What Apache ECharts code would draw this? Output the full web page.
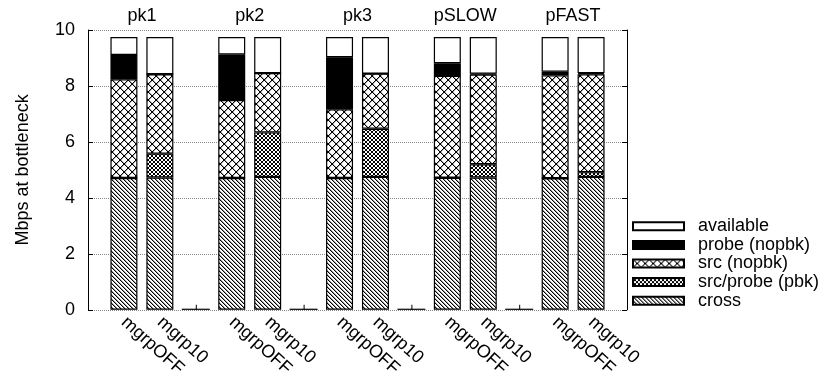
<!DOCTYPE html>
<html>
<head>
<meta charset="utf-8">
<script src="https://cdn.jsdelivr.net/npm/echarts@6/dist/echarts.min.js"></script>
<style>
  html, body { margin: 0; padding: 0; background: #fff; }
  #chart { width: 825px; height: 380px; }
</style>
</head>
<body>
<div id="chart"></div>
<script>
// Slots along the x axis: one per bar, plus empty spacer slots between groups.
const slots = ['', 'mgrpOFF', 'mgrp10', '', 'mgrpOFF', 'mgrp10', '', 'mgrpOFF', 'mgrp10', '',
               'mgrpOFF', 'mgrp10', '', 'mgrpOFF', 'mgrp10', ''];
// Slot index of each bar, and of each spacer between groups.
const barSlots = [1, 2, 4, 5, 7, 8, 10, 11, 13, 14];
const spacerSlots = [3, 6, 9, 12];
// Group titles, on a secondary axis with one category per unit step.
const groupSlots = ['', 'pk1', '', '', 'pk2', '', '', 'pk3', '', '', 'pSLOW', '', '', 'pFAST', ''];

// Segment heights (Mbps), one per bar, stacked bottom to top.
const cross     = [4.71, 4.73, 4.71, 4.75, 4.71, 4.75, 4.72, 4.73, 4.70, 4.75];
const srcProbe  = [0,    0.85, 0,    1.59, 0,    1.72, 0,    0.47, 0,    0.17];
const srcNopbk  = [3.53, 2.84, 2.79, 2.12, 2.46, 1.97, 3.64, 3.21, 3.68, 3.50];
const probe     = [0.87, 0,    1.63, 0,    1.86, 0,    0.45, 0.03, 0.13, 0.04];
const available = [0.64, 1.33, 0.62, 1.29, 0.72, 1.31, 0.94, 1.31, 1.24, 1.29];

const yTicks = [0, 2, 4, 6, 8, 10];

// Spread bar values over the slot list.
function toSlots(values) {
  const out = slots.map(() => '-');
  barSlots.forEach((s, i) => { out[s] = values[i]; });
  return out;
}

// Hatch fills built from small pixel tiles; shade() returns a grey level per pixel.
function tile(size, shade) {
  const c = document.createElement('canvas');
  c.width = size; c.height = size;
  const ctx = c.getContext('2d');
  ctx.fillStyle = '#fff';
  ctx.fillRect(0, 0, size, size);
  for (let y = 0; y < size; y++) {
    for (let x = 0; x < size; x++) {
      const g = shade(x, y, size);
      if (g !== null) {
        ctx.fillStyle = g;
        ctx.fillRect(x, y, 1, 1);
      }
    }
  }
  return { image: c, repeat: 'repeat' };
}
const diagFill = tile(4, (x, y, s) => x === y ? '#000' : (x === (y + 1) % s ? '#999' : null));
const coarseXFill = tile(8, (x, y, s) => {
  if (x === y || x === s - 1 - y) return '#000';
  if (x === (y + 1) % s || x === (s - y) % s) return '#aaa';
  return null;
});
const fineXFill = tile(4, (x, y, s) => (x === y || x === s - 1 - y) ? '#000' : null);

const FONT = 'Liberation Sans, Arial, Helvetica, sans-serif';

function barSeries(name, values, fill) {
  return {
    name: name,
    type: 'bar',
    stack: 'total',
    barWidth: 27,
    data: toSlots(values),
    itemStyle: { color: fill, borderColor: '#000', borderWidth: 1.2 },
    emphasis: { disabled: true },
    animation: false
  };
}

const chart = echarts.init(document.getElementById('chart'), null, { renderer: 'canvas' });

chart.setOption({
  animation: false,
  grid: { left: 88, right: 198, top: 30, bottom: 69 },
  legend: {
    orient: 'vertical',
    left: 632,
    top: 217,
    padding: 0,
    itemWidth: 51,
    itemHeight: 8,
    itemGap: 0,
    selectedMode: false,
    icon: 'rect',
    textStyle: { fontFamily: FONT, fontSize: 18, color: '#000', lineHeight: 18.6, padding: [0, 0, 0, 9] },
    data: ['available', 'probe (nopbk)', 'src (nopbk)', 'src/probe (pbk)', 'cross']
  },
  xAxis: [
    {
      type: 'category',
      data: slots,
      boundaryGap: false,
      axisLine: { show: false },
      axisTick: { show: false },
      splitLine: { show: false },
      axisLabel: {
        interval: 0,
        rotate: -42,
        margin: 10,
        fontFamily: FONT,
        fontSize: 18,
        color: '#000'
      }
    },
    {
      type: 'category',
      data: groupSlots,
      position: 'top',
      boundaryGap: true,
      axisLine: { show: false },
      axisTick: { show: false },
      axisLabel: { interval: 0, margin: 5, fontFamily: FONT, fontSize: 18, color: '#000' }
    }
  ],
  yAxis: [
    {
      type: 'value',
      min: 0,
      max: 10,
      interval: 2,
      name: 'Mbps at bottleneck',
      nameLocation: 'middle',
      nameGap: 56,
      nameTextStyle: { fontFamily: FONT, fontSize: 18, color: '#000' },
      axisLine: { show: true, lineStyle: { color: '#000', width: 1 } },
      axisTick: { show: true, inside: true, length: 5, lineStyle: { color: '#000' } },
      axisLabel: {
        margin: 13,
        fontFamily: FONT,
        fontSize: 18,
        color: '#000',
        formatter: v => (yTicks.indexOf(v) >= 0 ? String(v) : '')
      },
      splitLine: { show: true, lineStyle: { color: '#888', type: 'dotted', width: 1 } }
    },
    {
      type: 'value',
      min: 0,
      max: 10,
      interval: 2,
      position: 'right',
      axisLine: { show: true, lineStyle: { color: '#000', width: 1 } },
      axisTick: { show: true, inside: true, length: 5, lineStyle: { color: '#000' } },
      axisLabel: { show: false },
      splitLine: { show: false }
    }
  ],
  series: [
    barSeries('cross', cross, diagFill),
    barSeries('src/probe (pbk)', srcProbe, fineXFill),
    barSeries('src (nopbk)', srcNopbk, coarseXFill),
    barSeries('probe (nopbk)', probe, '#000'),
    barSeries('available', available, '#fff'),
    {
      // Empty spacer entries between groups: a flat base line with a small centre tick.
      type: 'custom',
      silent: true,
      data: spacerSlots.map(s => [s, 0]),
      renderItem: function (params, api) {
        const p = api.coord([api.value(0), api.value(1)]);
        const half = 14;
        return {
          type: 'group',
          children: [
            { type: 'line', shape: { x1: p[0] - half, y1: p[1] - 0.5, x2: p[0] + half, y2: p[1] - 0.5 },
              style: { stroke: '#000', lineWidth: 1.2 } },
            { type: 'line', shape: { x1: p[0] + 0.5, y1: p[1], x2: p[0] + 0.5, y2: p[1] - 5 },
              style: { stroke: '#000', lineWidth: 1 } }
          ]
        };
      }
    }
  ]
});
</script>
</body>
</html>
